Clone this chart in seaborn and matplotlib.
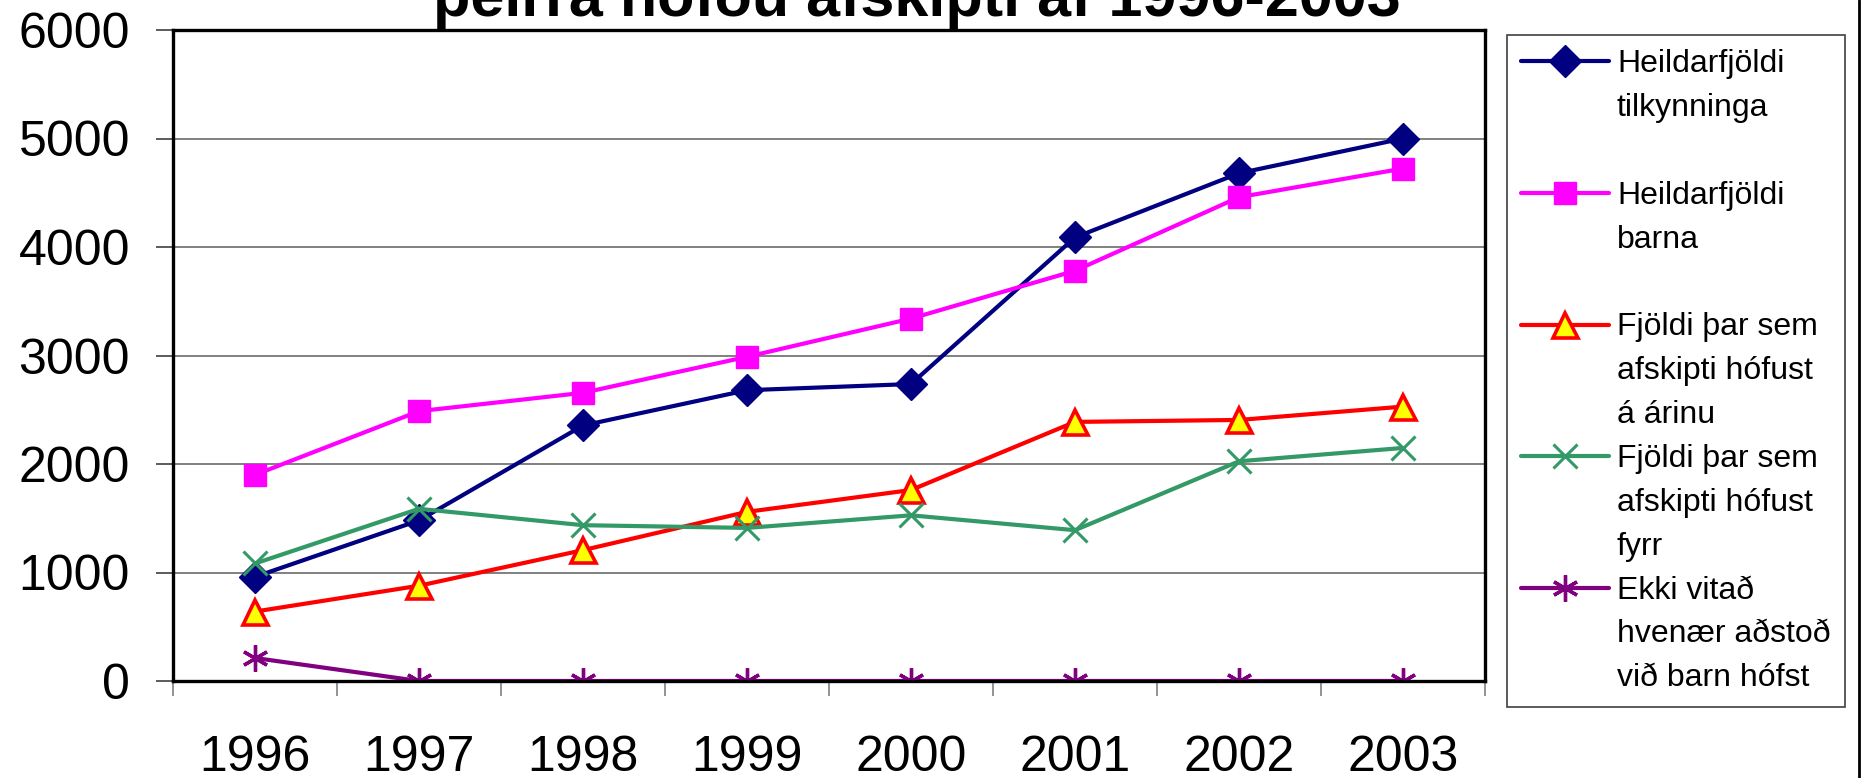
import matplotlib
matplotlib.use("Agg")
import matplotlib.pyplot as plt
from matplotlib.lines import Line2D
from matplotlib.legend_handler import HandlerLine2D
import seaborn as sns
import numpy as np
import pandas as pd

years = ["1996", "1997", "1998", "1999", "2000", "2001", "2002", "2003"]

tilkynningar = [960, 1480, 2355, 2680, 2737, 4088, 4680, 5000]
born = [1900, 2487, 2656, 2988, 3340, 3781, 4459, 4723]
hofust_arinu = [640, 878, 1206, 1559, 1760, 2388, 2406, 2529]
hofust_fyrr = [1083, 1587, 1436, 1411, 1527, 1390, 2025, 2148]
ekki_vitad = [212, 0, 0, 0, 0, 0, 0, 0]

# two-line labels get an empty third line so every entry takes the same room
labels = [
    "Heildarfjöldi\ntilkynninga\n",
    "Heildarfjöldi\nbarna\n",
    "Fjöldi þar sem\nafskipti hófust\ná árinu",
    "Fjöldi þar sem\nafskipti hófust\nfyrr",
    "Ekki vitað\nhvenær aðstoð\nvið barn hófst",
]
series = [tilkynningar, born, hofust_arinu, hofust_fyrr, ekki_vitad]

styles = [
    dict(color="#000080", marker="D", markersize=16, markerfacecolor="#000080",
         markeredgecolor="#000080", markeredgewidth=1),
    dict(color="#FF00FF", marker="s", markersize=16, markerfacecolor="#FF00FF",
         markeredgecolor="#FF00FF", markeredgewidth=1),
    dict(color="#FF0000", marker="^", markersize=18, markerfacecolor="#FFFF00",
         markeredgecolor="#FF0000", markeredgewidth=2.6),
    dict(color="#339966", marker="x", markersize=17, markerfacecolor="none",
         markeredgecolor="#339966", markeredgewidth=2.2),
    dict(color="#800080", marker=(6, 2, 0), markersize=19, markerfacecolor="none",
         markeredgecolor="#800080", markeredgewidth=2.4),
]

title = "þeirra höfðu afskipti af 1996-2003"


class FirstLineHandler(HandlerLine2D):
    """Puts the legend handle next to the first text line instead of the middle."""

    def __init__(self, shift, **kw):
        super().__init__(**kw)
        self.shift = shift

    def create_artists(self, legend, orig_handle, xdescent, ydescent,
                       width, height, fontsize, trans):
        artists = super().create_artists(legend, orig_handle, xdescent, ydescent,
                                         width, height, fontsize, trans)
        for a in artists:
            a.set_ydata(np.asarray(a.get_ydata(), dtype=float) + self.shift * fontsize)
        return artists


sns.set_style("white")
plt.rcParams["font.family"] = ["Liberation Sans", "DejaVu Sans"]
plt.rcParams["text.color"] = "black"
plt.rcParams["xtick.labelcolor"] = "black"
plt.rcParams["ytick.labelcolor"] = "black"

fig = plt.figure(figsize=(18.73, 7.78), dpi=100)
ax = fig.add_axes([173 / 1873, 1 - 681 / 778, (1485 - 173) / 1873, (681 - 30) / 778])

for vals, lab, st in zip(series, labels, styles):
    df = pd.DataFrame({"year": years, "value": vals})
    sns.lineplot(data=df, x="year", y="value", ax=ax, label=lab,
                 linewidth=3.0, **st)

ax.set_xlim(-0.5, len(years) - 0.5)
ax.set_ylim(0, 6000)
ax.set_yticks(np.arange(0, 6001, 1000))
ax.set_xticks(np.arange(-0.5, len(years), 1), minor=True)
ax.set_xlabel("")
ax.set_ylabel("")
ax.yaxis.grid(True, color="#808080", linewidth=1.4)
ax.xaxis.grid(False)
ax.set_axisbelow(True)

ax.tick_params(axis="y", direction="out", length=12, width=1.2, color="#404040",
               labelsize=36, labelcolor="black", pad=19, left=True)
ax.tick_params(axis="x", which="major", length=0, labelsize=36, labelcolor="black",
               pad=39, bottom=True)
ax.tick_params(axis="x", which="minor", direction="out", length=11, width=1.2,
               color="#808080", bottom=True)

for sp in ax.spines.values():
    sp.set_color("black")
    sp.set_linewidth(2.4)

handles, labs = ax.get_legend_handles_labels()
leg = ax.legend(handles, labs, loc="upper left",
                bbox_to_anchor=(1507 / 1873, 1 - 35 / 778),
                bbox_transform=fig.transFigure, borderaxespad=0,
                fontsize=23, frameon=True, fancybox=False, framealpha=1,
                edgecolor="#404040", handlelength=2.75, handletextpad=0.25,
                borderpad=0.44, labelspacing=0.44,
                handler_map={Line2D: FirstLineHandler(1.47)})
leg.get_frame().set_linewidth(1.2)
for t in leg.get_texts():
    t.set_linespacing(1.6)
    t.set_color("black")

fig.text(917 / 1873, 1 - 16 / 778, title, ha="center", va="baseline",
         fontsize=44, fontweight="bold", color="black")

fig.add_artist(Line2D([1859 / 1873, 1859 / 1873], [0, 1], transform=fig.transFigure,
                      color="black", linewidth=2))

fig.savefig("out.png", dpi=100)
